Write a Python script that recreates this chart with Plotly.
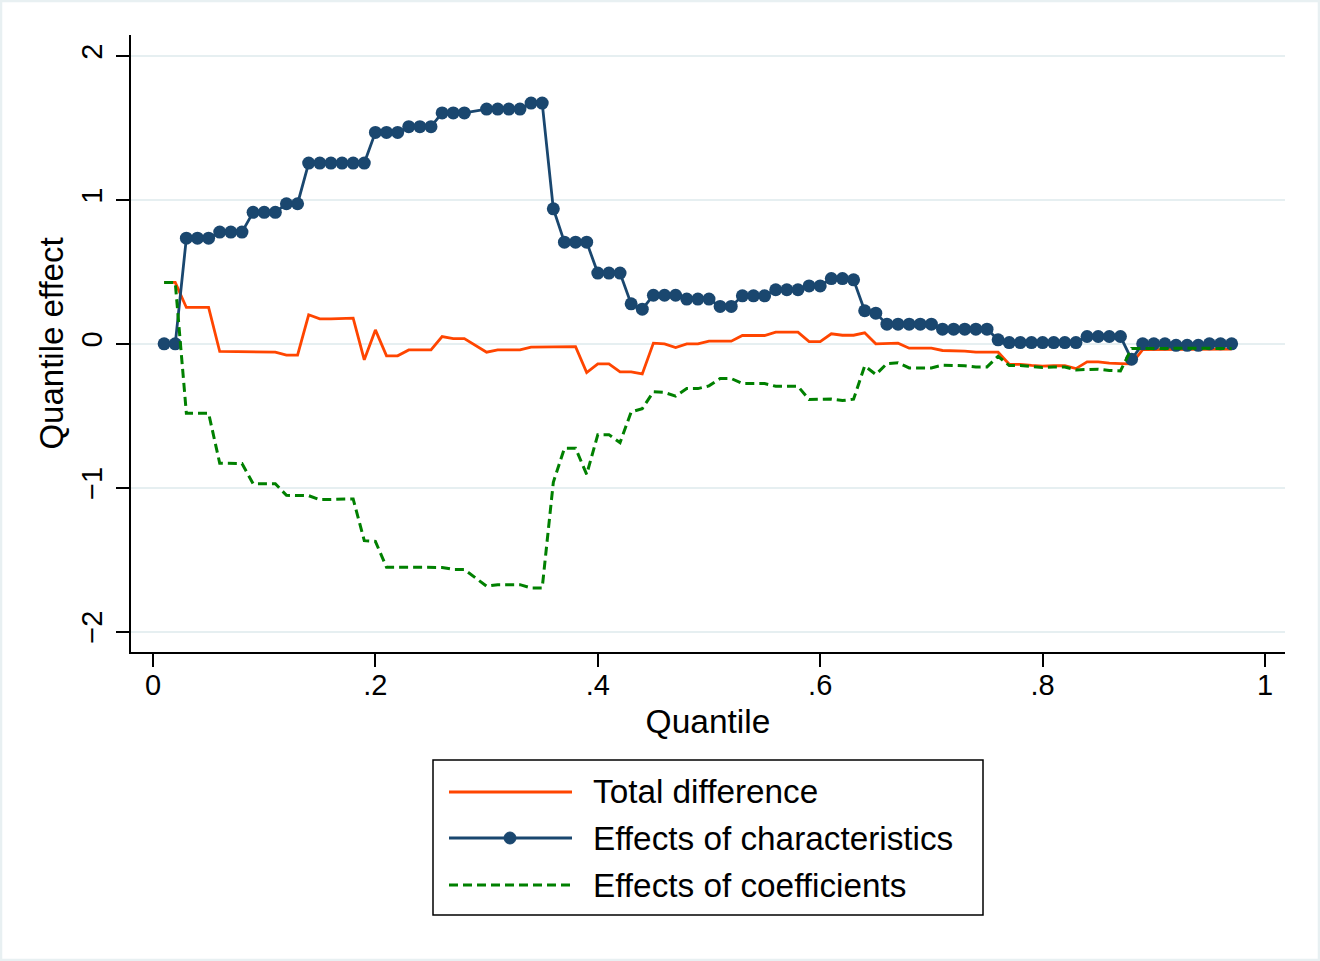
import plotly.graph_objects as go

quantile = [0.01, 0.02, 0.03, 0.04, 0.05, 0.06, 0.07, 0.08, 0.09, 0.10,
            0.11, 0.12, 0.13, 0.14, 0.15, 0.16, 0.17, 0.18, 0.19, 0.20,
            0.21, 0.22, 0.23, 0.24, 0.25, 0.26, 0.27, 0.28, 0.29, 0.30,
            0.31, 0.32, 0.33, 0.34, 0.35, 0.36, 0.37, 0.38, 0.39, 0.40,
            0.41, 0.42, 0.43, 0.44, 0.45, 0.46, 0.47, 0.48, 0.49, 0.50,
            0.51, 0.52, 0.53, 0.54, 0.55, 0.56, 0.57, 0.58, 0.59, 0.60,
            0.61, 0.62, 0.63, 0.64, 0.65, 0.66, 0.67, 0.68, 0.69, 0.70,
            0.71, 0.72, 0.73, 0.74, 0.75, 0.76, 0.77, 0.78, 0.79, 0.80,
            0.81, 0.82, 0.83, 0.84, 0.85, 0.86, 0.87, 0.88, 0.89, 0.90,
            0.91, 0.92, 0.93, 0.94, 0.95, 0.96, 0.97]

total_difference = [
    0.427, 0.427, 0.253, 0.253, 0.253, -0.053, -0.053, -0.055, -0.058, -0.058,
    -0.058, -0.079, -0.079, 0.202, 0.174, 0.174, 0.179, 0.179, -0.111, 0.097,
    -0.083, -0.083, -0.042, -0.042, -0.042, 0.051, 0.037, 0.037, None, -0.058,
    -0.042, -0.042, -0.042, -0.023, -0.023, -0.023, -0.019, -0.019, -0.200, -0.139,
    -0.139, -0.195, -0.195, -0.209, 0.005, 0.000, -0.025, 0.000, 0.000, 0.019,
    0.019, 0.019, 0.058, 0.058, 0.058, 0.081, 0.081, 0.081, 0.016, 0.016,
    0.070, 0.060, 0.060, 0.077, 0.000, 0.000, 0.005, -0.030, -0.030, -0.030,
    -0.046, -0.046, -0.050, -0.058, -0.058, -0.058, -0.142, -0.142, -0.150, -0.155,
    -0.152, -0.152, -0.172, -0.125, -0.125, -0.134, -0.137, -0.139, -0.040, -0.040,
    -0.040, -0.040, -0.040, -0.040, -0.037, -0.037, -0.037]

effects_characteristics = [
    0.000, 0.000, 0.735, 0.735, 0.735, 0.777, 0.777, 0.777, 0.914, 0.914,
    0.914, 0.974, 0.974, 1.257, 1.257, 1.257, 1.257, 1.257, 1.257, 1.470,
    1.470, 1.470, 1.510, 1.510, 1.510, 1.605, 1.605, 1.605, None, 1.632,
    1.632, 1.632, 1.632, 1.674, 1.674, 0.939, 0.707, 0.707, 0.707, 0.492,
    0.492, 0.492, 0.278, 0.241, 0.338, 0.338, 0.338, 0.311, 0.311, 0.311,
    0.260, 0.260, 0.334, 0.334, 0.334, 0.376, 0.376, 0.376, 0.403, 0.403,
    0.454, 0.454, 0.445, 0.230, 0.213, 0.137, 0.137, 0.137, 0.137, 0.137,
    0.102, 0.102, 0.102, 0.102, 0.102, 0.028, 0.009, 0.009, 0.009, 0.009,
    0.009, 0.009, 0.009, 0.051, 0.051, 0.051, 0.051, -0.107, 0.000, 0.000,
    0.000, -0.010, -0.010, -0.010, 0.000, 0.000, 0.000]

effects_coefficients = [
    0.427, 0.427, -0.482, -0.482, -0.482, -0.830, -0.830, -0.832, -0.972, -0.972,
    -0.972, -1.053, -1.053, -1.055, -1.083, -1.083, -1.078, -1.078, -1.368, -1.373,
    -1.553, -1.553, -1.552, -1.552, -1.552, -1.554, -1.568, -1.568, None, -1.685,
    -1.674, -1.674, -1.674, -1.697, -1.697, -0.962, -0.726, -0.726, -0.907, -0.631,
    -0.631, -0.687, -0.473, -0.450, -0.333, -0.338, -0.363, -0.311, -0.311, -0.292,
    -0.241, -0.241, -0.276, -0.276, -0.276, -0.295, -0.295, -0.295, -0.387, -0.387,
    -0.384, -0.394, -0.385, -0.153, -0.213, -0.137, -0.132, -0.167, -0.167, -0.167,
    -0.148, -0.148, -0.152, -0.160, -0.160, -0.086, -0.151, -0.151, -0.159, -0.164,
    -0.161, -0.161, -0.181, -0.176, -0.176, -0.185, -0.188, -0.032, -0.033, -0.033,
    -0.033, -0.030, -0.030, -0.030, -0.032, -0.032, -0.032]

series_names = ["Total difference", "Effects of characteristics", "Effects of coefficients"]
x_tickvals = [0, 0.2, 0.4, 0.6, 0.8, 1]
x_ticktext = ["0", ".2", ".4", ".6", ".8", "1"]
y_tickvals = [-2, -1, 0, 1, 2]

ORANGE = "#FF4500"
NAVY = "#1A476F"
GREEN = "#008000"
GRID = "#E6EFF1"
FONT = "Liberation Sans, Arial, sans-serif"

LW = 2.8
DASH = "9px,5px"

fig = go.Figure()
fig.add_trace(go.Scatter(x=quantile, y=total_difference, mode="lines", name=series_names[0],
                         connectgaps=True, line=dict(color=ORANGE, width=LW)))
fig.add_trace(go.Scatter(x=quantile, y=effects_characteristics, mode="lines+markers",
                         name=series_names[1], connectgaps=True,
                         line=dict(color=NAVY, width=LW),
                         marker=dict(color=NAVY, size=13)))
fig.add_trace(go.Scatter(x=quantile, y=effects_coefficients, mode="lines", name=series_names[2],
                         connectgaps=True, line=dict(color=GREEN, width=3, dash=DASH)))

# plot area in pixels: left 131, right 1285, top 35, bottom 652
L, R, T, B = 131, 1285, 35, 652
W, H = 1320, 961
pw, ph = R - L, B - T


def px(xp):
    return (xp - L) / pw


def py(yp):
    return (B - yp) / ph


shapes = []
annotations = []
# outer light border
shapes.append(dict(type="rect", xref="paper", yref="paper",
                   x0=px(1), x1=px(W - 1), y0=py(H - 1), y1=py(1),
                   line=dict(color="#E8F0F2", width=2.5), layer="below"))
# legend box
shapes.append(dict(type="rect", xref="paper", yref="paper",
                   x0=px(433), x1=px(983), y0=py(915), y1=py(760),
                   line=dict(color="black", width=1.5), fillcolor="white"))
rows = [792, 838, 885]
styles = [dict(color=ORANGE, width=LW), dict(color=NAVY, width=LW),
          dict(color=GREEN, width=3, dash=DASH)]
for name, yr, st in zip(series_names, rows, styles):
    shapes.append(dict(type="line", xref="paper", yref="paper",
                       x0=px(449), x1=px(572), y0=py(yr), y1=py(yr), line=st))
    annotations.append(dict(text=name, xref="paper", yref="paper", x=px(591), y=py(yr),
                            xanchor="left", yanchor="middle", showarrow=False,
                            font=dict(family=FONT, size=33.3, color="black")))
# legend marker
shapes.append(dict(type="circle", xref="paper", yref="paper",
                   xsizemode="pixel", ysizemode="pixel",
                   xanchor=px(510), yanchor=py(838),
                   x0=-6, x1=6, y0=-6, y1=6,
                   fillcolor=NAVY, line=dict(color=NAVY, width=1)))

fig.update_layout(
    width=W, height=H,
    margin=dict(l=L, r=W - R, t=T, b=H - B),
    paper_bgcolor="white", plot_bgcolor="white",
    showlegend=False,
    font=dict(family=FONT, color="black"),
    shapes=shapes, annotations=annotations,
)
fig.update_xaxes(
    range=[-(153 - L) / 1112, (R - 153) / 1112],
    tickvals=x_tickvals, ticktext=x_ticktext,
    showgrid=False, zeroline=False,
    showline=True, linecolor="black", linewidth=1.5,
    ticks="outside", ticklen=13, tickwidth=1.5, tickcolor="black",
    ticklabelstandoff=-7,
    tickfont=dict(family=FONT, size=29, color="black"),
    title=dict(text="Quantile", font=dict(family=FONT, size=33.5, color="black"), standoff=10),
    automargin=False,
)
fig.update_yaxes(
    range=[-2.142, 2.147],
    tickvals=y_tickvals,
    showgrid=True, gridcolor=GRID, gridwidth=2, zeroline=False,
    showline=True, linecolor="black", linewidth=1.5,
    ticks="outside", ticklen=13, tickwidth=1.5, tickcolor="black",
    tickangle=-90, ticklabelstandoff=3,
    tickfont=dict(family=FONT, size=29, color="black"),
    title=dict(text="Quantile effect", font=dict(family=FONT, size=33, color="black"), standoff=2),
    automargin=False,
)

fig.write_html("out.html", config={"displayModeBar": False},
               post_script="document.body.style.margin='0';document.body.style.overflow='hidden';")
